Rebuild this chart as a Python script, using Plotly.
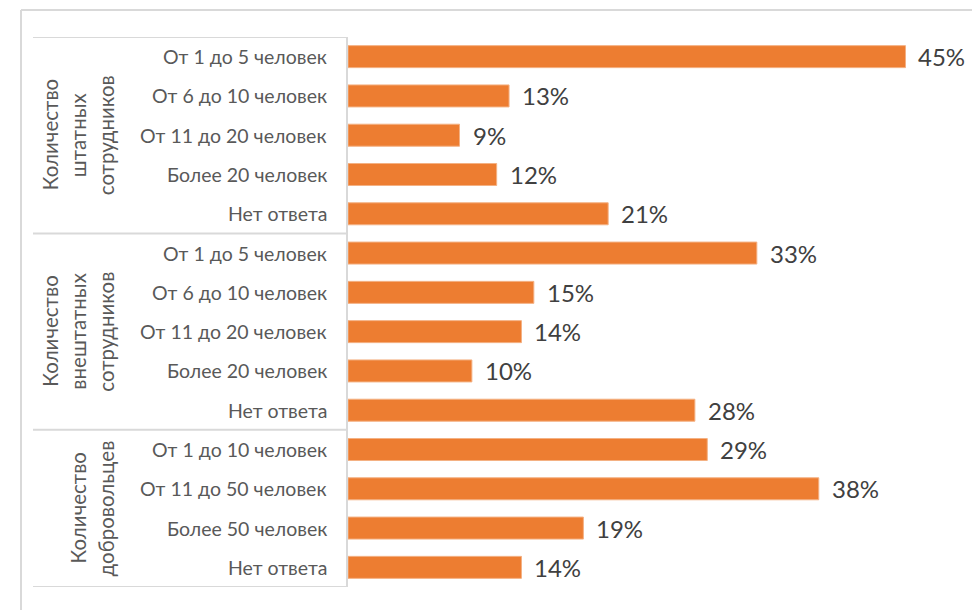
import plotly.graph_objects as go

# ---- data ----
categories = [
    "От 1 до 5 человек", "От 6 до 10 человек", "От 11 до 20 человек", "Более 20 человек", "Нет ответа",
    "От 1 до 5 человек", "От 6 до 10 человек", "От 11 до 20 человек", "Более 20 человек", "Нет ответа",
    "От 1 до 10 человек", "От 11 до 50 человек", "Более 50 человек", "Нет ответа",
]
values = [45, 13, 9, 12, 21, 33, 15, 14, 10, 28, 29, 38, 19, 14]
group_lines = [
    ["Количество", "штатных", "сотрудников"],
    ["Количество", "внештатных", "сотрудников"],
    ["Количество", "добровольцев"],
]
group_sizes = [5, 5, 4]

# ---- layout geometry ----
W, H = 972, 610
L, R, T, B = 348, 12, 37, 23
PW = W - L - R
PH = H - T - B
XMAX = 49.4

def px_x(px):
    return (px - L) / PW

def px_y(py):
    return (H - B - py) / PH

BAR_COLOR = "#ED7D31"
LINE_COLOR = "#D9D9D9"
LABEL_COLOR = "#595959"
DATA_COLOR = "#404040"
FONT = "Lato"

ypos = list(range(len(values)))

fig = go.Figure()
fig.add_trace(go.Bar(
    x=values, y=ypos, orientation="h",
    width=0.56,
    marker=dict(color=BAR_COLOR, line=dict(color="#F4B183", width=1)),
    hoverinfo="skip",
))

annotations = []
# data labels
for v, yy in zip(values, ypos):
    annotations.append(dict(
        x=v, y=yy, xref="x", yref="y", text=f"{v}%", showarrow=False,
        xanchor="left", yanchor="middle", xshift=11,
        font=dict(family=FONT, size=24, color=DATA_COLOR),
    ))
# category labels
for c, yy in zip(categories, ypos):
    annotations.append(dict(
        x=px_x(329), y=yy, xref="paper", yref="y", text=c, showarrow=False,
        xanchor="right", yanchor="middle",
        font=dict(family=FONT, size=19.5, color=LABEL_COLOR),
    ))
# group labels (rotated)
start = 0
bounds = [-0.5]
for lines, n in zip(group_lines, group_sizes):
    center = start + (n - 1) / 2
    k = len(lines)
    for j, line in enumerate(lines):
        xpx = 106 - (k - 1 - j) * 28
        annotations.append(dict(
            x=px_x(xpx), y=center, xref="paper", yref="y", text=line, showarrow=False,
            xanchor="center", yanchor="middle", textangle=-90,
            font=dict(family=FONT, size=20.5, color=LABEL_COLOR),
        ))
    start += n
    bounds.append(start - 0.5)

shapes = []
for b in bounds:
    shapes.append(dict(type="line", xref="paper", yref="y",
                       x0=px_x(33), x1=0, y0=b, y1=b,
                       line=dict(color=LINE_COLOR, width=2)))
# outer chart border
shapes.append(dict(type="line", xref="paper", yref="paper",
                   x0=px_x(21), x1=px_x(21), y0=px_y(10), y1=px_y(620),
                   line=dict(color=LINE_COLOR, width=2)))
shapes.append(dict(type="line", xref="paper", yref="paper",
                   x0=px_x(21), x1=px_x(990), y0=px_y(10), y1=px_y(10),
                   line=dict(color=LINE_COLOR, width=2)))

fig.update_layout(
    width=W, height=H,
    margin=dict(l=L, r=R, t=T, b=B, pad=0),
    paper_bgcolor="white", plot_bgcolor="white",
    showlegend=False,
    xaxis=dict(range=[0, XMAX], visible=False, fixedrange=True),
    yaxis=dict(range=[len(values) - 0.5, -0.5], showticklabels=False, showgrid=False,
               zeroline=False, showline=True, linecolor=LINE_COLOR, linewidth=2,
               ticks="", fixedrange=True),
    annotations=annotations,
    shapes=shapes,
    bargap=0.44,
)

fig.write_html("out.html")
